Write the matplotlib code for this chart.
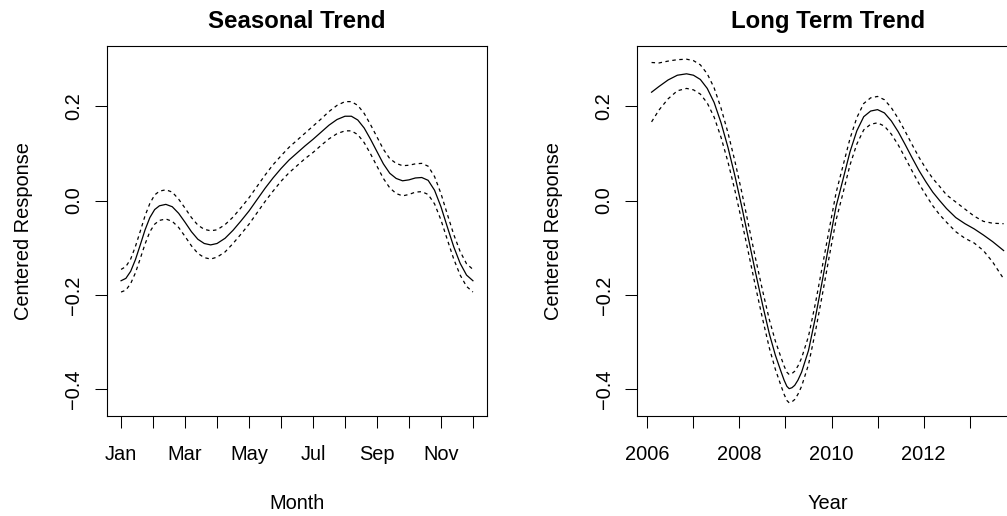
import matplotlib
matplotlib.use('Agg')
import matplotlib.pyplot as plt
from matplotlib import rcParams

# seasonal smooth (month 1..12)
month = [1.00, 1.15, 1.30, 1.45, 1.60, 1.75, 1.90, 2.05, 2.20, 2.40, 2.60, 2.80, 3.00, 3.20,
         3.40, 3.60, 3.80, 4.00, 4.25, 4.50, 4.75, 5.00, 5.25, 5.50, 5.75, 6.00, 6.25, 6.50,
         6.75, 7.00, 7.25, 7.50, 7.75, 8.00, 8.20, 8.40, 8.60, 8.80, 9.00, 9.20, 9.40, 9.60,
         9.80, 10.00, 10.20, 10.40, 10.60, 10.80, 11.00, 11.20, 11.40, 11.60, 11.80, 12.00]
season_fit = [-0.170, -0.165, -0.150, -0.125, -0.094, -0.062, -0.036, -0.019, -0.011, -0.008,
              -0.013, -0.027, -0.046, -0.066, -0.082, -0.091, -0.094, -0.091, -0.080, -0.063,
              -0.043, -0.022, 0.002, 0.026, 0.048, 0.068, 0.086, 0.101, 0.116, 0.130, 0.145,
              0.160, 0.172, 0.179, 0.179, 0.171, 0.154, 0.130, 0.104, 0.078, 0.058, 0.047,
              0.042, 0.044, 0.048, 0.049, 0.043, 0.022, -0.013, -0.056, -0.098, -0.133,
              -0.158, -0.170]
season_upper = [-0.146, -0.140, -0.124, -0.097, -0.065, -0.032, -0.006, 0.012, 0.020, 0.023,
                0.018, 0.003, -0.016, -0.036, -0.052, -0.061, -0.064, -0.062, -0.051, -0.035,
                -0.015, 0.006, 0.030, 0.054, 0.076, 0.095, 0.113, 0.128, 0.143, 0.158, 0.173,
                0.189, 0.202, 0.210, 0.210, 0.202, 0.185, 0.161, 0.135, 0.109, 0.089, 0.079,
                0.074, 0.075, 0.078, 0.079, 0.073, 0.051, 0.015, -0.029, -0.072, -0.108,
                -0.134, -0.146]
season_lower = [-0.194, -0.190, -0.176, -0.153, -0.123, -0.092, -0.066, -0.050, -0.042, -0.039,
                -0.044, -0.057, -0.076, -0.096, -0.112, -0.121, -0.124, -0.120, -0.109, -0.091,
                -0.071, -0.050, -0.026, -0.002, 0.020, 0.041, 0.059, 0.074, 0.089, 0.102, 0.117,
                0.131, 0.142, 0.148, 0.148, 0.140, 0.123, 0.099, 0.073, 0.047, 0.027, 0.015,
                0.010, 0.013, 0.018, 0.019, 0.013, -0.007, -0.041, -0.083, -0.124, -0.158,
                -0.182, -0.194]

# long term smooth (decimal year)
year = [2006.09, 2006.25, 2006.45, 2006.65, 2006.85, 2007.00, 2007.15, 2007.30, 2007.45,
        2007.60, 2007.75, 2007.90, 2008.05, 2008.20, 2008.35, 2008.50, 2008.65, 2008.78,
        2008.90, 2008.97, 2009.03, 2009.08, 2009.14, 2009.20, 2009.27, 2009.35, 2009.50,
        2009.65, 2009.80, 2009.95, 2010.10, 2010.25, 2010.40, 2010.55, 2010.70, 2010.85,
        2011.00, 2011.15, 2011.30, 2011.45, 2011.60, 2011.75, 2011.90, 2012.05, 2012.20,
        2012.35, 2012.50, 2012.70, 2012.90, 2013.10, 2013.30, 2013.50, 2013.74]
trend_fit = [0.230, 0.242, 0.256, 0.266, 0.269, 0.266, 0.257, 0.238, 0.208, 0.165, 0.113,
             0.053, -0.013, -0.083, -0.153, -0.220, -0.283, -0.328, -0.362, -0.381, -0.394,
             -0.399, -0.397, -0.392, -0.381, -0.364, -0.318, -0.248, -0.170, -0.090, -0.012,
             0.045, 0.103, 0.148, 0.178, 0.190, 0.193, 0.186, 0.169, 0.146, 0.119, 0.091,
             0.064, 0.040, 0.018, 0.000, -0.017, -0.036, -0.049, -0.060, -0.073, -0.087,
             -0.106]
trend_upper = [0.293, 0.292, 0.296, 0.299, 0.300, 0.297, 0.288, 0.269, 0.239, 0.196, 0.144,
               0.084, 0.018, -0.053, -0.123, -0.190, -0.253, -0.298, -0.332, -0.351, -0.364,
               -0.369, -0.367, -0.362, -0.351, -0.334, -0.288, -0.218, -0.140, -0.061, 0.017,
               0.074, 0.131, 0.176, 0.206, 0.218, 0.221, 0.214, 0.197, 0.174, 0.147, 0.119,
               0.092, 0.068, 0.047, 0.030, 0.012, -0.003, -0.018, -0.033, -0.044, -0.048,
               -0.049]
trend_lower = [0.167, 0.192, 0.216, 0.233, 0.238, 0.235, 0.226, 0.207, 0.177, 0.134, 0.082,
               0.022, -0.044, -0.113, -0.183, -0.250, -0.313, -0.358, -0.392, -0.411, -0.424,
               -0.429, -0.427, -0.422, -0.411, -0.394, -0.348, -0.278, -0.200, -0.119, -0.041,
               0.016, 0.075, 0.120, 0.150, 0.162, 0.165, 0.158, 0.141, 0.118, 0.091, 0.063,
               0.036, 0.012, -0.011, -0.030, -0.046, -0.066, -0.080, -0.090, -0.106, -0.130,
               -0.166]

month_ticks = list(range(1, 13))
month_labels = ['Jan', '', 'Mar', '', 'May', '', 'Jul', '', 'Sep', '', 'Nov', '']
year_ticks = list(range(2006, 2015))
year_labels = ['2006', '', '2008', '', '2010', '', '2012', '', '']
y_ticks = [-0.4, -0.2, 0.0, 0.2]
y_labels = ['\u22120.4', '\u22120.2', '0.0', '0.2']

rcParams['font.family'] = ['Liberation Sans', 'DejaVu Sans']
FS = 14.4

fig = plt.figure(figsize=(10.07, 5.16), dpi=100)
ax1 = fig.add_axes([0.10626, 0.19380, 0.37736, 0.71705])
ax2 = fig.add_axes([0.63287, 0.19380, 0.37795, 0.71705])

panels = [
    (ax1, month, season_fit, season_upper, season_lower, month_ticks, month_labels,
     (0.56, 12.44), 'Month', 'Seasonal Trend'),
    (ax2, year, trend_fit, trend_upper, trend_lower, year_ticks, year_labels,
     (2005.78, 2014.05), 'Year', 'Long Term Trend'),
]

for ax, x, fit, up, lo, xt, xl, xlim, xlab, title in panels:
    # fitted smooth and its confidence band
    ax.plot(x, fit, color='black', linewidth=0.9)
    ax.plot(x, up, color='black', linewidth=0.9, linestyle=(0, (2.8, 2.8)))
    ax.plot(x, lo, color='black', linewidth=0.9, linestyle=(0, (2.8, 2.8)))

    ax.set_xlim(*xlim)
    ax.set_ylim(-0.457, 0.328)

    ax.set_xticks(xt)
    ax.set_xticklabels(xl, fontsize=FS)
    ax.set_yticks(y_ticks)
    ax.set_yticklabels(y_labels, fontsize=FS, rotation=90, va='center')

    ax.tick_params(axis='both', direction='out', length=8.6, width=0.75, color='black')
    ax.tick_params(axis='x', pad=12.6)
    ax.tick_params(axis='y', pad=8.5)

    for sp in ax.spines.values():
        sp.set_linewidth(0.8)

    ax.set_xlabel(xlab, fontsize=FS, labelpad=21.6)
    ax.set_ylabel('Centered Response', fontsize=FS, labelpad=22.4)
    ax.set_title(title, fontsize=17.3, fontweight='bold', pad=12.7)

fig.savefig('out.png', dpi=100)
